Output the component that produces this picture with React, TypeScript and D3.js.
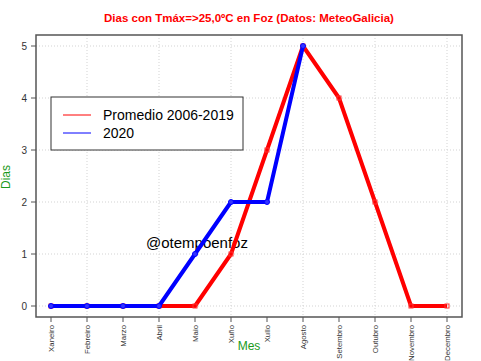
import React from "react";
import * as d3 from "d3";

const months = ["Xaneiro","Febreiro","Marzo","Abril","Maio","Xuño","Xullo","Agosto","Setembro","Outubro","Novembro","Decembro"];
const promedio = [0,0,0,0,0,1,3,5,4,2,0,0];
const y2020 = [0,0,0,0,1,2,2,5];
const yTicks = [0,1,2,3,4,5];
const gridMonths = [1,3,5,7,9,11];

const W = 481, H = 361;
const box = { l: 36, r: 462, t: 35, b: 317 };

export default function App() {
  const x = d3.scaleLinear().domain([0, 11]).range([51, 447]);
  const y = d3.scaleLinear().domain([0, 5]).range([306, 46]);
  const line = d3.line<number>().x((_, i) => x(i)).y(d => y(d));
  const font = "Liberation Sans, Arial, sans-serif";
  return (
    <svg width={W} height={H} style={{ position: "absolute", left: 0, top: 0, background: "#fff" }} fontFamily={font}>
      <rect x={0} y={0} width={W} height={H} fill="#fff" />
      <text x={249} y={22} textAnchor="middle" fill="#ff0000" fontWeight="bold" fontSize={11.5}>
        Dias con Tmáx=&gt;25,0ºC en Foz (Datos: MeteoGalicia)
      </text>
      {yTicks.map(t => (
        <line key={"gy" + t} x1={box.l} x2={box.r} y1={y(t)} y2={y(t)} stroke="#d3d3d3" strokeDasharray="1,2" />
      ))}
      {gridMonths.map(m => (
        <line key={"gx" + m} x1={x(m)} x2={x(m)} y1={box.t} y2={box.b} stroke="#d3d3d3" strokeDasharray="1,2" />
      ))}
      <rect x={51} y={97} width={192} height={53} fill="#fff" stroke="#333" strokeWidth={1} />
      <line x1={63} x2={91} y1={115} y2={115} stroke="#ff0000" strokeWidth={1} />
      <line x1={63} x2={91} y1={133} y2={133} stroke="#0000ff" strokeWidth={1} />
      <text x={103} y={120} fontSize={14} fill="#000">Promedio 2006-2019</text>
      <text x={103} y={138} fontSize={14} fill="#000">2020</text>
      <text x={146} y={248} fontSize={15} fill="#000">@otempoenfoz</text>
      <path d={line(promedio) || ""} fill="none" stroke="#ff0000" strokeWidth={4} strokeLinejoin="round" />
      {promedio.map((v, i) => (
        <rect key={"pr" + i} x={x(i) - 2} y={y(v) - 2} width={4} height={4} fill="none" stroke="#ff3333" strokeWidth={1} />
      ))}
      <path d={line(y2020) || ""} fill="none" stroke="#0000ff" strokeWidth={4} strokeLinejoin="round" />
      {y2020.map((v, i) => (
        <circle key={"bl" + i} cx={x(i)} cy={y(v)} r={2.5} fill="#3333ff" stroke="#0000ff" />
      ))}
      <rect x={box.l} y={box.t} width={box.r - box.l} height={box.b - box.t} fill="none" stroke="#555" strokeWidth={1.5} />
      {yTicks.map(t => (
        <g key={"yt" + t}>
          <line x1={box.l - 5} x2={box.l} y1={y(t)} y2={y(t)} stroke="#555" />
          <text x={27} y={y(t) + 3.5} fontSize={10} textAnchor="end" fill="#333">{t}</text>
        </g>
      ))}
      {months.map((m, i) => (
        <g key={"xt" + i}>
          <line x1={x(i)} x2={x(i)} y1={box.b} y2={box.b + 5} stroke="#555" />
          <text transform={`translate(${x(i) + 3},${box.b + 8}) rotate(-90)`} fontSize={7.8} textAnchor="end" fill="#333">{m}</text>
        </g>
      ))}
      <text x={249} y={350} textAnchor="middle" fontSize={12} fill="#1a9a1a">Mes</text>
      <text transform={`translate(10,177) rotate(-90)`} textAnchor="middle" fontSize={12} fill="#1a9a1a">Dias</text>
    </svg>
  );
}
